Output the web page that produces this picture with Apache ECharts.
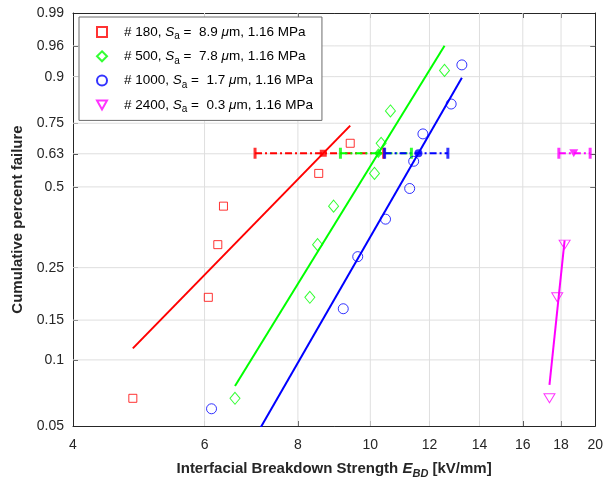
<!DOCTYPE html>
<html><head><meta charset="utf-8">
<script src="https://cdn.jsdelivr.net/npm/echarts@6/dist/echarts.min.js"></script>
<style>html,body{margin:0;padding:0;background:#fff}#c{width:606px;height:485px}</style>
</head><body><div id="c"></div>
<script>
// ---------- data ----------
const seriesNames = ['# 180', '# 500', '# 1000', '# 2400'];
const roughness = ['8.9', '7.8', '1.7', '0.3'];
const colors = ['#ff0000', '#00ff00', '#0000ff', '#ff00ff'];
const E180 = [4.81, 6.07, 6.25, 6.36, 8.53, 9.40];
const F180 = [0.067, 0.188, 0.309, 0.430, 0.552, 0.672];
const E500 = [6.59, 8.30, 8.50, 8.93, 10.13, 10.34, 10.64, 12.57];
const F500 = [0.067, 0.188, 0.309, 0.430, 0.552, 0.672, 0.795, 0.915];
const E1000 = [6.13, 9.20, 9.62, 10.48, 11.29, 11.43, 11.76, 12.83, 13.26];
const F1000 = [0.060, 0.168, 0.277, 0.386, 0.494, 0.600, 0.709, 0.819, 0.927];
const E2400 = [17.37, 17.79, 18.20];
const F2400 = [0.067, 0.188, 0.309];
// Weibull fit parameters (scale alpha, shape beta) and 95% CI of alpha
const alpha = [8.65, 10.25, 11.60, 18.72];
const beta = [3.62, 5.74, 6.14, 33.7];
const ciLow = [7.01, 9.12, 10.45, 17.88];
const ciHigh = [10.42, 11.35, 12.70, 19.69];
const xTicks = [4, 6, 8, 10, 12, 14, 16, 18, 20];
const xTickLabels = ['4', '6', '8', '10', '12', '14', '16', '18', '20'];
const yTicks = [0.05, 0.1, 0.15, 0.25, 0.5, 0.63, 0.75, 0.9, 0.96, 0.99];
const yTickLabels = ['0.05', '0.1', '0.15', '0.25', '0.5', '0.63', '0.75', '0.9', '0.96', '0.99'];
const F63 = 1 - Math.exp(-1);

// ---------- helpers ----------
const L = x => Math.log(x);
const W = p => Math.log(-Math.log(1 - p));
const EX = [E180, E500, E1000, E2400];
const FY = [F180, F500, F1000, F2400];
const DOWN_TRI = 'path://M0,0L10,0L5,9Z';
const markerSym = ['rect', 'diamond', 'circle', DOWN_TRI];
const markerSize = [8, [10, 12], 10, [11, 10]];
const centerSize = [7, [8, 10], 8, [9, 8]];
const FONT = '"Liberation Sans", Arial, Helvetica, sans-serif';
const labelOf = (vals, labels) => v => {
  let best = 0, d = 1e9;
  vals.forEach((t, i) => { const dd = Math.abs(t - v); if (dd < d) { d = dd; best = i; } });
  return labels[best];
};
const xMin = L(xTicks[0]), xMax = L(xTicks[xTicks.length - 1]);
const yMin = W(yTicks[0]), yMax = W(yTicks[yTicks.length - 1]);

const series = [];
// grid lines
const gridStyle = { color: '#dfdfdf', width: 1 };
xTicks.slice(1, -1).forEach(t => series.push({
  type: 'line', z: 0, silent: true, symbol: 'none', lineStyle: gridStyle,
  data: [[L(t), yMin], [L(t), yMax]]
}));
yTicks.slice(1, -1).forEach(p => series.push({
  type: 'line', z: 0, silent: true, symbol: 'none', lineStyle: gridStyle,
  data: [[xMin, W(p)], [xMax, W(p)]]
}));
for (let k = 0; k < 4; k++) {
  const c = colors[k];
  series.push({
    name: seriesNames[k], type: 'scatter', z: 3,
    symbol: markerSym[k], symbolSize: markerSize[k],
    symbolKeepAspect: true,
    itemStyle: { color: 'rgba(255,255,255,0)', borderColor: c, borderWidth: 1 },
    data: EX[k].map((e, i) => [L(e), W(FY[k][i])])
  });
  const xmin = Math.min(...EX[k]), xmax = Math.max(...EX[k]);
  const fit = x => beta[k] * (L(x) - L(alpha[k]));
  series.push({
    type: 'line', z: 3, symbol: 'none', silent: true, clip: true,
    lineStyle: { color: c, width: 2 },
    data: [[L(xmin), fit(xmin)], [L(xmax), fit(xmax)]]
  });
  series.push({
    type: 'line', z: 3, symbol: 'none', silent: true,
    lineStyle: { color: c, width: 2, type: [7, 3, 2, 3] },
    data: [[L(ciLow[k]), W(F63)], [L(ciHigh[k]), W(F63)]]
  });
  series.push({
    type: 'scatter', z: 3, silent: true, symbol: 'rect', symbolSize: [3, 11],
    itemStyle: { color: c },
    data: [[L(ciLow[k]), W(F63)], [L(ciHigh[k]), W(F63)]]
  });
  series.push({
    type: 'scatter', z: 3, silent: true,
    symbol: markerSym[k], symbolSize: centerSize[k],
    itemStyle: { color: c },
    data: [[L(alpha[k]), W(F63)]]
  });
}

const axisCol = '#262626';
const tickCommon = { inside: true, length: 5, lineStyle: { color: axisCol } };
const lineCommon = { show: true, onZero: false, lineStyle: { color: axisCol, width: 1 } };
const chart = echarts.init(document.getElementById('c'), null, { renderer: 'canvas' });
chart.setOption({
  animation: false,
  backgroundColor: '#ffffff',
  grid: { left: 73, right: 10, top: 13, bottom: 59, containLabel: false },
  xAxis: [{
    type: 'value', min: xMin, max: xMax, position: 'bottom',
    axisLine: lineCommon,
    axisTick: Object.assign({ customValues: xTicks.map(L) }, tickCommon),
    axisLabel: { customValues: xTicks.map(L), formatter: labelOf(xTicks.map(L), xTickLabels),
      color: axisCol, fontSize: 14, fontFamily: FONT, margin: 12 },
    splitLine: { show: false },
    name: '{b|Interfacial Breakdown Strength }{bi|E}{bs|BD}{b| [kV/mm]}',
    nameLocation: 'middle', nameGap: 32,
    nameTextStyle: {
      rich: {
        b: { fontSize: 15, fontWeight: 'bold', color: axisCol, fontFamily: FONT },
        bi: { fontSize: 15, fontWeight: 'bold', fontStyle: 'italic', color: axisCol, fontFamily: FONT },
        bs: { fontSize: 11, fontWeight: 'bold', fontStyle: 'italic', color: axisCol, fontFamily: FONT, padding: [10, 0, 0, 0] }
      }
    }
  }, {
    type: 'value', min: xMin, max: xMax, position: 'top',
    axisLine: lineCommon,
    axisTick: Object.assign({ customValues: xTicks.map(L) }, tickCommon),
    axisLabel: { show: false }, splitLine: { show: false }
  }],
  yAxis: [{
    type: 'value', min: yMin, max: yMax, position: 'left',
    axisLine: lineCommon,
    axisTick: Object.assign({ show: true, customValues: yTicks.map(W) }, tickCommon),
    axisLabel: { customValues: yTicks.map(W), formatter: labelOf(yTicks.map(W), yTickLabels),
      color: axisCol, fontSize: 14, fontFamily: FONT, margin: 9 },
    splitLine: { show: false },
    name: 'Cumulative percent failure', nameLocation: 'middle', nameGap: 44,
    nameTextStyle: { fontSize: 15, fontWeight: 'bold', color: axisCol, fontFamily: FONT }
  }, {
    type: 'value', min: yMin, max: yMax, position: 'right',
    axisLine: lineCommon,
    axisTick: Object.assign({ show: true, customValues: yTicks.map(W) }, tickCommon),
    axisLabel: { show: false }, splitLine: { show: false }
  }],
  legend: {
    data: seriesNames,
    orient: 'vertical', left: 79, top: 17,
    padding: [8, 9, 6, 17], itemWidth: 10, itemHeight: 10, itemGap: 7.8,
    symbolKeepAspect: true,
    backgroundColor: '#ffffff', borderColor: '#6b6b6b', borderWidth: 1,
    selectedMode: false,
    formatter: name => {
      const k = seriesNames.indexOf(name);
      return '{p|}{t|' + name + ', }{i|S}{s|a}{t| =  ' + roughness[k] + ' }{i|\u03bc}{t|m, 1.16 MPa}';
    },
    textStyle: {
      fontFamily: FONT, color: '#000',
      rich: {
        p: { width: 12 },
        t: { fontSize: 13.5, fontFamily: FONT, color: '#000' },
        i: { fontSize: 13.5, fontStyle: 'italic', fontFamily: FONT, color: '#000' },
        s: { fontSize: 10, fontFamily: FONT, color: '#000', padding: [9, 0, 0, 0] }
      }
    }
  },
  series: series
});
</script></body></html>
